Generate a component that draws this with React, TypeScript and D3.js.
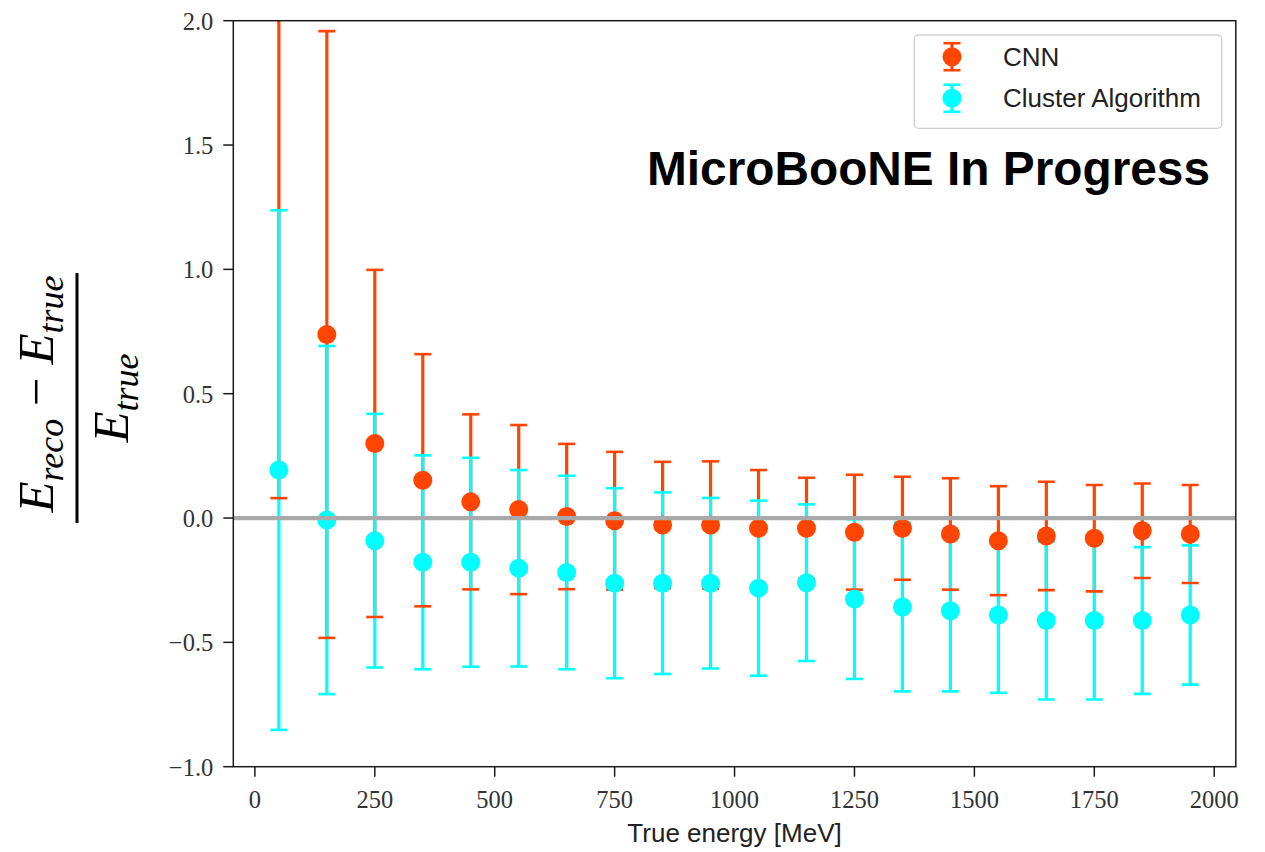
import React from 'react';
import * as d3 from 'd3';

const energies = [50, 150, 250, 350, 450, 550, 650, 750, 850, 950, 1050, 1150, 1250, 1350, 1450, 1550, 1650, 1750, 1850, 1950];
const cnnValues = [2.3, 0.738, 0.3, 0.152, 0.065, 0.034, 0.006, -0.011, -0.028, -0.028, -0.041, -0.041, -0.057, -0.041, -0.064, -0.091, -0.072, -0.081, -0.051, -0.064];
const cnnErrors = [2.22, 1.22, 0.698, 0.507, 0.352, 0.34, 0.292, 0.277, 0.254, 0.256, 0.234, 0.203, 0.231, 0.207, 0.224, 0.219, 0.218, 0.214, 0.19, 0.197];
const clusterValues = [0.193, -0.008, -0.091, -0.178, -0.178, -0.202, -0.219, -0.262, -0.262, -0.262, -0.282, -0.26, -0.326, -0.358, -0.373, -0.39, -0.412, -0.412, -0.412, -0.39];
const clusterErrors = [1.045, 0.7, 0.51, 0.43, 0.42, 0.395, 0.389, 0.382, 0.365, 0.343, 0.352, 0.315, 0.321, 0.339, 0.324, 0.313, 0.318, 0.318, 0.295, 0.28];
const xTicks = [0, 250, 500, 750, 1000, 1250, 1500, 1750, 2000];
const yTicks = [-1.0, -0.5, 0.0, 0.5, 1.0, 1.5, 2.0];
const seriesNames = ['CNN', 'Cluster Algorithm'];
const seriesColors = ['#ff4500', '#00ffff'];
const xLabel = 'True energy [MeV]';
const watermark = 'MicroBooNE In Progress';

const W = 1265;
const H = 852;
const PL = 233.3, PR = 1235.8, PT = 20.7, PB = 766.7;

export default function App() {
  const x = d3.scaleLinear().domain([-45, 2045]).range([PL, PR]);
  const y = d3.scaleLinear().domain([-1, 2]).range([PB, PT]);
  const fmt = d3.format('.1f');
  const series = [
    { vals: cnnValues, errs: cnnErrors, color: seriesColors[0] },
    { vals: clusterValues, errs: clusterErrors, color: seriesColors[1] },
  ];
  const capHalf = 8.5;
  const lw = 3.2;
  const r = 9.5;
  const serif = '"Liberation Serif", "Times New Roman", serif';
  const sans = '"Liberation Sans", Arial, sans-serif';

  return (
    <svg width={W} height={H} style={{ position: 'absolute', left: 0, top: 0, background: '#fff' }}>
      <defs>
        <clipPath id="plotclip">
          <rect x={PL} y={PT} width={PR - PL} height={PB - PT} />
        </clipPath>
      </defs>
      <rect x={0} y={0} width={W} height={H} fill="#fff" />
      <g clipPath="url(#plotclip)">
        {series.map((s, si) => (
          <g key={'l' + si}>
            {energies.map((e, i) => (
              <line key={i} x1={x(e)} x2={x(e)} y1={y(s.vals[i] - s.errs[i])} y2={y(s.vals[i] + s.errs[i])} stroke={s.color} strokeWidth={lw} />
            ))}
          </g>
        ))}
        {series.map((s, si) => (
          <g key={'c' + si}>
            {energies.map((e, i) => (
              <g key={i}>
                <line x1={x(e) - capHalf} x2={x(e) + capHalf} y1={y(s.vals[i] - s.errs[i])} y2={y(s.vals[i] - s.errs[i])} stroke={s.color} strokeWidth={2.6} />
                <line x1={x(e) - capHalf} x2={x(e) + capHalf} y1={y(s.vals[i] + s.errs[i])} y2={y(s.vals[i] + s.errs[i])} stroke={s.color} strokeWidth={2.6} />
              </g>
            ))}
          </g>
        ))}
        {series.map((s, si) => (
          <g key={'m' + si}>
            {energies.map((e, i) => (
              <circle key={i} cx={x(e)} cy={y(s.vals[i])} r={r} fill={s.color} />
            ))}
          </g>
        ))}
        <line x1={PL} x2={PR} y1={y(0)} y2={y(0)} stroke="#a9a9a9" strokeWidth={4.2} />
      </g>
      {/* frame */}
      <rect x={PL} y={PT} width={PR - PL} height={PB - PT} fill="none" stroke="#1a1a1a" strokeWidth={1.5} />
      {/* y ticks */}
      {yTicks.map((t) => (
        <g key={'yt' + t}>
          <line x1={PL - 10} x2={PL} y1={y(t)} y2={y(t)} stroke="#1a1a1a" strokeWidth={1.5} />
          <text x={PL - 20} y={y(t) + 9} textAnchor="end" fontFamily={serif} fontSize={24.5} fill="#333">{fmt(t)}</text>
        </g>
      ))}
      {/* x ticks */}
      {xTicks.map((t) => (
        <g key={'xt' + t}>
          <line x1={x(t)} x2={x(t)} y1={PB} y2={PB + 10} stroke="#1a1a1a" strokeWidth={1.5} />
          <text x={x(t)} y={PB + 41} textAnchor="middle" fontFamily={serif} fontSize={24.5} fill="#333">{t}</text>
        </g>
      ))}
      <text x={(PL + PR) / 2} y={842} textAnchor="middle" fontFamily={sans} fontSize={26} fill="#222">{xLabel}</text>
      {/* y label fraction */}
      <g transform="translate(77,398) rotate(-90)" fontFamily={serif} fill="#000">
        <line x1={-125} x2={125} y1={0} y2={0} stroke="#000" strokeWidth={3} />
        <text x={4} y={-24} textAnchor="middle" fontSize={51}>
          <tspan fontStyle="italic">E</tspan>
          <tspan fontStyle="italic" fontSize={36} dy={10}>reco</tspan>
          <tspan dy={-10}>{' \u2212 '}</tspan>
          <tspan fontStyle="italic">E</tspan>
          <tspan fontStyle="italic" fontSize={36} dy={10}>true</tspan>
        </text>
        <text x={0} y={51} textAnchor="middle" fontSize={51}>
          <tspan fontStyle="italic">E</tspan>
          <tspan fontStyle="italic" fontSize={36} dy={10}>true</tspan>
        </text>
      </g>
      {/* legend */}
      <rect x={914.3} y={35} width={307.4} height={93.3} rx={4} fill="#fff" fillOpacity={0.8} stroke="#d0d0d0" strokeWidth={1.3} />
      {series.map((s, si) => {
        const cy = si === 0 ? 56.7 : 98.3;
        const lx = 952;
        return (
          <g key={'lg' + si}>
            <line x1={lx} x2={lx} y1={cy - 13.5} y2={cy + 13.5} stroke={s.color} strokeWidth={lw} />
            <line x1={lx - capHalf} x2={lx + capHalf} y1={cy - 13.5} y2={cy - 13.5} stroke={s.color} strokeWidth={2.6} />
            <line x1={lx - capHalf} x2={lx + capHalf} y1={cy + 13.5} y2={cy + 13.5} stroke={s.color} strokeWidth={2.6} />
            <circle cx={lx} cy={cy} r={r} fill={s.color} />
            <text x={1003} y={cy + 9} fontFamily={sans} fontSize={26} fill="#222">{seriesNames[si]}</text>
          </g>
        );
      })}
      <text x={1210} y={185} textAnchor="end" fontFamily={sans} fontWeight="bold" fontSize={47.8} fill="#000">{watermark}</text>
    </svg>
  );
}
